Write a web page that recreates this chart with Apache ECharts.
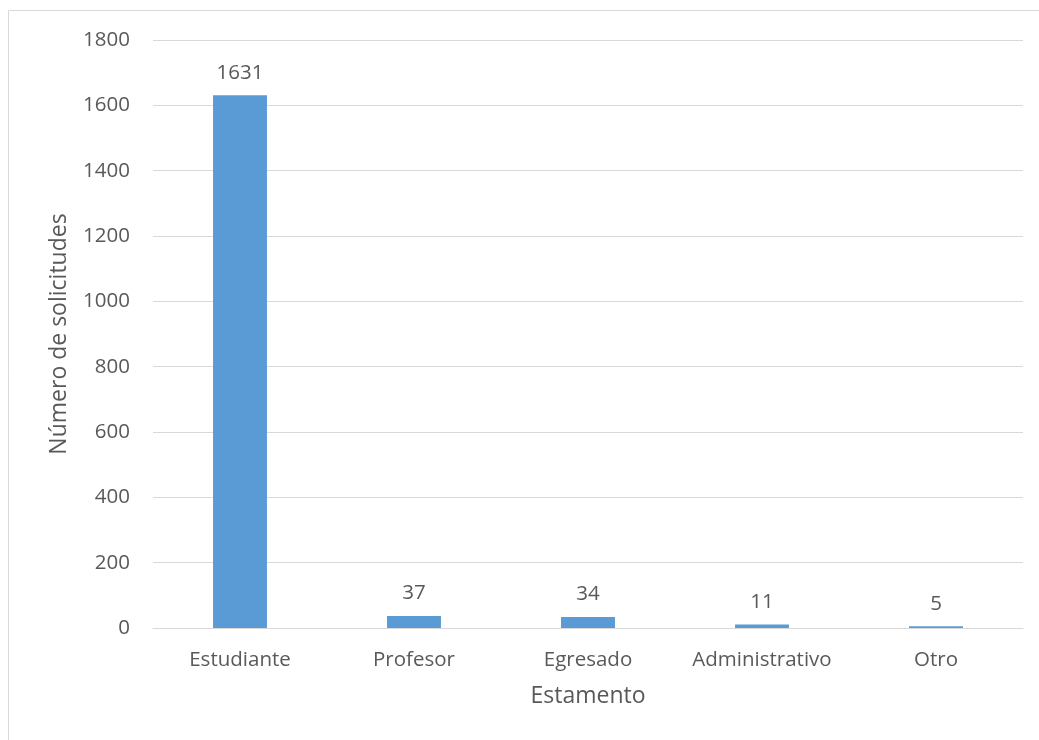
<!DOCTYPE html>
<html>
<head>
<meta charset="utf-8">
<script src="https://cdn.jsdelivr.net/npm/echarts@6/dist/echarts.min.js"></script>
<style>
  html, body { margin: 0; padding: 0; background: #fff; }
  #chart { width: 1039px; height: 740px; }
</style>
</head>
<body>
<div id="chart"></div>
<script>
// Solicitudes por estamento
const categories = ['Estudiante', 'Profesor', 'Egresado', 'Administrativo', 'Otro'];
const solicitudes = [1631, 37, 34, 11, 5];
const yTicks = { min: 0, max: 1800, interval: 200 };

const textColor = '#595959';
const fontFamily = 'Open Sans, Liberation Sans, sans-serif';

const chart = echarts.init(document.getElementById('chart'));
chart.setOption({
  animation: false,
  backgroundColor: '#fff',
  graphic: [{
    type: 'rect',
    shape: { x: 8.5, y: 10.5, width: 1100, height: 800 },
    style: { fill: 'none', stroke: '#d9d9d9', lineWidth: 1 },
    silent: true
  }],
  grid: { left: 153, right: 16, top: 40, bottom: 112 },
  xAxis: {
    type: 'category',
    data: categories,
    name: 'Estamento',
    nameLocation: 'middle',
    nameGap: 57,
    nameTextStyle: { color: textColor, fontSize: 23, fontFamily },
    axisLine: { lineStyle: { color: '#d9d9d9', width: 1 } },
    axisTick: { show: false },
    axisLabel: { color: textColor, fontSize: 20.5, fontFamily, margin: 22, interval: 0 }
  },
  yAxis: {
    type: 'value',
    min: yTicks.min,
    max: yTicks.max,
    interval: yTicks.interval,
    name: 'Número de solicitudes',
    nameLocation: 'middle',
    nameGap: 82,
    nameTextStyle: { color: textColor, fontSize: 23, fontFamily },
    axisLine: { show: false },
    axisTick: { show: false },
    axisLabel: { color: textColor, fontSize: 20.5, fontFamily, margin: 23, formatter: v => String(v) },
    splitLine: { lineStyle: { color: '#d9d9d9', width: 1 } }
  },
  series: [{
    type: 'bar',
    data: solicitudes,
    barWidth: '31%',
    itemStyle: { color: '#5b9bd5' },
    label: {
      show: true,
      position: 'top',
      distance: 12,
      color: textColor,
      fontSize: 20.5,
      fontFamily
    }
  }]
});
</script>
</body>
</html>
